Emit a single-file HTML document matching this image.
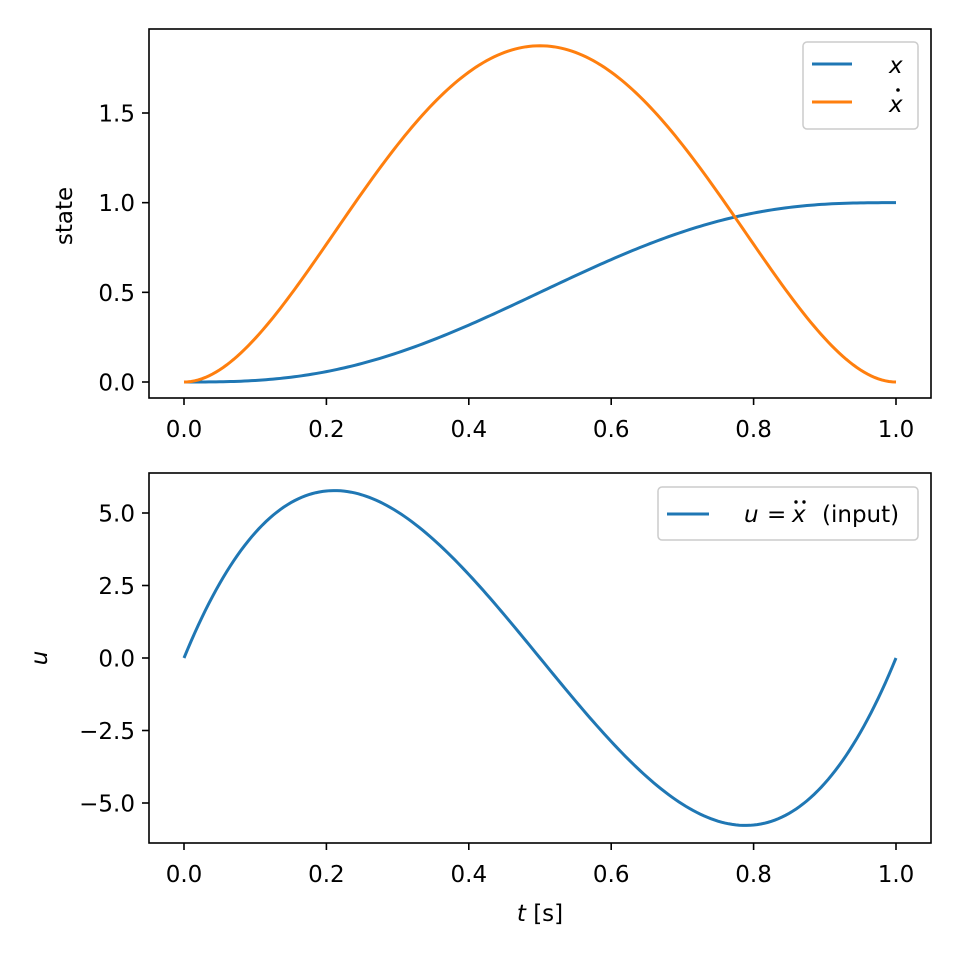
<!DOCTYPE html>
<html><head><meta charset="utf-8"><style>
body{margin:0;background:#fff}
svg{display:block}
text{font-family:"DejaVu Sans","Liberation Sans",sans-serif;font-size:23px;fill:#000}
.i{font-style:italic;font-family:"DejaVu Sans",sans-serif}
</style></head><body>
<svg id="s" width="960" height="960" viewBox="0 0 960 960" xmlns="http://www.w3.org/2000/svg">
<rect width="960" height="960" fill="#fff"/>
<path id="px" fill="none" stroke="#1f77b4" stroke-width="3"/>
<path id="pv" fill="none" stroke="#ff7f0e" stroke-width="3"/>
<path id="pu" fill="none" stroke="#1f77b4" stroke-width="3"/>
<rect x="149" y="29" width="782" height="369" fill="none" stroke="#000" stroke-width="1.6"/>
<rect x="149" y="473" width="782" height="370" fill="none" stroke="#000" stroke-width="1.6"/>
<g id="ticks" stroke="#000" stroke-width="1.6"></g>
<g id="labs"></g>
<text x="72" y="216" text-anchor="middle" transform="rotate(-90 72 216)">state</text>
<text x="47" y="658" text-anchor="middle" class="i" transform="rotate(-90 47 658)">u</text>
<text x="540" y="921" text-anchor="middle"><tspan class="i">t</tspan> [s]</text>
<rect x="803" y="42" width="115" height="87" rx="4" fill="#fff" fill-opacity="0.8" stroke="#ccc" stroke-width="1.5"/>
<line x1="812" y1="64" x2="852" y2="64" stroke="#1f77b4" stroke-width="3"/>
<line x1="812" y1="102" x2="852" y2="102" stroke="#ff7f0e" stroke-width="3"/>
<text x="889" y="73" class="i">x</text>
<text x="889" y="112" class="i">x</text>
<circle cx="898" cy="90" r="1.8" fill="#000"/>
<rect x="658" y="487" width="260" height="53" rx="4" fill="#fff" fill-opacity="0.8" stroke="#ccc" stroke-width="1.5"/>
<line x1="667" y1="514" x2="709" y2="514" stroke="#1f77b4" stroke-width="3"/>
<text x="744" y="522" class="i">u</text>
<text x="767" y="522">=</text>
<text x="792" y="522" class="i">x</text>
<text x="822" y="522">(input)</text>
<circle cx="796" cy="502" r="1.7" fill="#000"/>
<circle cx="804" cy="502" r="1.7" fill="#000"/>
</svg>
<script>
function X(t){return 184+712*t}
var a="",b="",c="";
for(var i=0;i<=200;i++){var t=i/200;
var x=10*t**3-15*t**4+6*t**5,v=30*t*t-60*t**3+30*t**4,u=60*t-180*t*t+120*t**3;
var p=(i?"L":"M")+X(t).toFixed(2)+",";
a+=p+(382-179.33*x).toFixed(2);b+=p+(382-179.33*v).toFixed(2);c+=p+(658-29*u).toFixed(2);}
document.getElementById("px").setAttribute("d",a);
document.getElementById("pv").setAttribute("d",b);
document.getElementById("pu").setAttribute("d",c);
var tk="",lb="";
[0,0.2,0.4,0.6,0.8,1].forEach(function(t){var x=X(t);
[398,843].forEach(function(y){tk+='<line x1="'+x+'" y1="'+y+'" x2="'+x+'" y2="'+(y+7)+'"/>';
lb+='<text x="'+x+'" y="'+(y+39)+'" text-anchor="middle">'+t.toFixed(1)+'</text>';});});
[0,0.5,1,1.5].forEach(function(v){var y=382-179.33*v;
tk+='<line x1="142" y1="'+y+'" x2="149" y2="'+y+'"/>';
lb+='<text x="135" y="'+(y+8.5)+'" text-anchor="end">'+v.toFixed(1)+'</text>';});
[-5,-2.5,0,2.5,5].forEach(function(v){var y=658-29*v;
tk+='<line x1="142" y1="'+y+'" x2="149" y2="'+y+'"/>';
lb+='<text x="135" y="'+(y+8.5)+'" text-anchor="end">'+(v<0?"\u2212":"")+Math.abs(v).toFixed(1)+'</text>';});
document.getElementById("ticks").innerHTML=tk;
document.getElementById("labs").innerHTML=lb;
</script>
</body></html>
